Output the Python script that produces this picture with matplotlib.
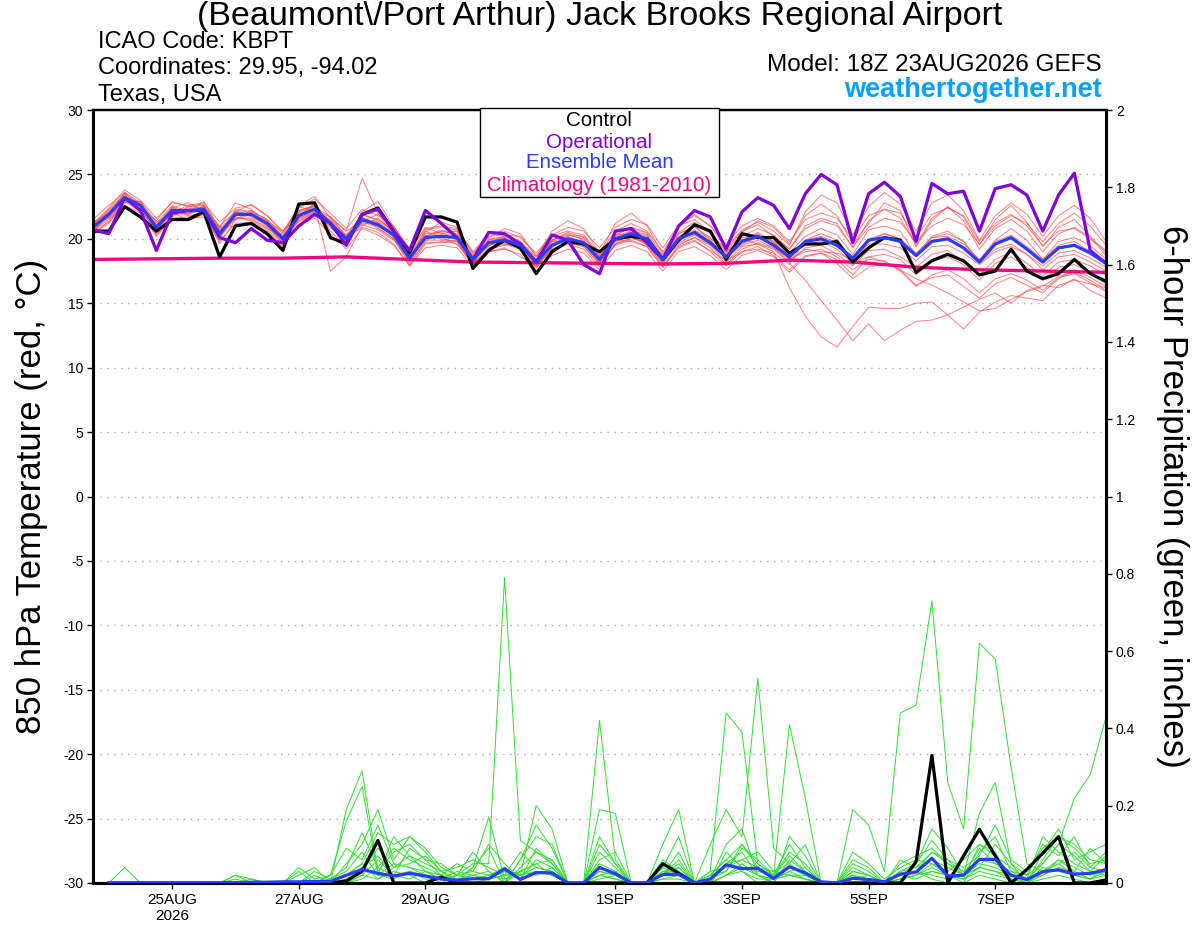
import numpy as np
import matplotlib
matplotlib.use("Agg")
import matplotlib.pyplot as plt
from matplotlib.patches import Rectangle

plt.rcParams['font.family'] = ['Liberation Sans', 'DejaVu Sans']
plt.rcParams['axes.unicode_minus'] = False

# 6-hourly steps from 18Z 23AUG2026 (step 0) to 18Z 08SEP2026 (step 64)
tick_steps = [5, 13, 21, 33, 41, 49, 57]
tick_labels = ["25AUG\n2026", "27AUG", "29AUG", "1SEP", "3SEP", "5SEP", "7SEP"]

# 850 hPa temperature (C), steps 0..64
control_t = [20.6, 20.6, 22.5, 21.7, 20.6, 21.5, 21.5, 22.1, 18.6, 21.0, 21.2, 20.4, 19.1, 22.7, 22.8, 20.1,
             19.6, 21.9, 22.4, 20.6, 18.9, 21.7, 21.7, 21.3, 17.7, 19.1, 19.9, 19.3, 17.3, 19.0, 19.8, 19.6,
             19.0, 20.0, 20.2, 20.0, 18.4, 19.9, 21.1, 20.6, 18.4, 20.4, 20.1, 20.1, 18.9, 19.6, 19.6, 19.8,
             18.2, 19.3, 20.1, 19.9, 17.4, 18.3, 18.8, 18.3, 17.2, 17.5, 19.2, 17.5, 16.9, 17.3, 18.4, 17.3, 16.7]
oper_t = [20.7, 20.4, 23.2, 22.2, 19.1, 22.0, 22.2, 22.2, 20.1, 19.7, 20.8, 19.9, 19.7, 21.0, 21.9, 21.2,
          19.5, 21.9, 22.3, 20.6, 19.1, 22.2, 21.2, 20.1, 18.4, 20.5, 20.4, 19.6, 18.2, 20.3, 19.9, 18.0,
          17.3, 20.6, 20.8, 19.7, 18.4, 21.0, 22.2, 21.7, 19.2, 22.1, 23.2, 22.6, 20.8, 23.5, 25.0, 24.2,
          19.7, 23.5, 24.4, 23.3, 19.8, 24.3, 23.5, 23.7, 20.6, 23.9, 24.2, 23.4, 20.6, 23.4, 25.1, 19.1, 18.1]
mean_t = [20.9, 21.9, 23.2, 22.6, 20.9, 22.2, 22.2, 22.3, 20.4, 21.9, 21.9, 21.2, 20.0, 21.8, 22.3, 21.2,
          20.0, 21.5, 21.1, 20.3, 18.5, 20.1, 20.2, 20.1, 18.4, 19.7, 19.9, 19.5, 18.2, 19.5, 20.0, 19.7,
          18.4, 20.0, 20.4, 20.0, 18.4, 20.0, 20.5, 19.7, 18.6, 19.8, 20.2, 19.5, 18.6, 19.8, 20.0, 19.5,
          18.5, 19.9, 20.1, 19.8, 18.7, 19.8, 20.0, 19.3, 18.2, 19.6, 20.1, 19.2, 18.2, 19.3, 19.5, 18.9, 18.1]
# climatology every 4 steps (18Z each day)
clim_steps = [0, 4, 8, 12, 16, 20, 24, 28, 32, 36, 40, 44, 48, 52, 56, 60, 64]
clim_t = [18.4, 18.45, 18.5, 18.5, 18.6, 18.4, 18.2, 18.15, 18.1, 18.05, 18.1, 18.35, 18.2, 17.8, 17.6, 17.5, 17.4]

members_t = [
    [21.2, 22.4, 23.8, 23.0, 21.6, 22.8, 22.6, 22.8, 21.3, 22.4, 22.6, 21.8, 20.6, 22.4, 23.1, 22.0, 20.8, 22.3, 21.8, 21.0, 19.2,
     20.8, 21.0, 20.8, 19.0, 20.4, 20.6, 20.1, 18.9, 20.3, 20.9, 20.6, 19.3, 20.9, 21.5, 21.1, 19.3, 21.1, 21.8, 21.0, 19.6,
     21.0, 21.6, 21.0, 19.8, 21.5, 22.0, 21.6, 20.0, 21.8, 22.3, 22.0, 20.1, 21.9, 22.4, 21.8, 19.8, 21.2, 21.9, 21.0, 19.5, 20.6, 20.8, 20.0, 19.1],
    [20.6, 21.3, 22.6, 22.0, 20.2, 21.5, 21.6, 21.7, 19.8, 21.2, 21.3, 20.5, 19.4, 21.1, 21.6, 20.4, 19.2, 20.8, 20.3, 19.5, 17.9,
     19.3, 19.5, 19.3, 17.8, 19.0, 19.2, 18.8, 17.5, 18.7, 19.2, 18.9, 17.6, 19.1, 19.5, 19.0, 17.5, 19.0, 19.4, 18.7, 17.6,
     18.7, 19.1, 18.6, 17.4, 18.6, 18.9, 18.4, 17.2, 18.6, 18.8, 18.4, 17.2, 18.3, 18.6, 18.0, 16.8, 18.1, 18.6, 17.8, 16.8, 17.8, 18.0, 17.4, 16.5],
    [21.0, 22.1, 23.5, 22.2, 21.0, 22.5, 21.9, 22.6, 20.9, 22.8, 22.3, 21.0, 20.3, 22.6, 23.3, 21.6, 20.6, 24.7, 22.0, 20.2, 18.3,
     20.5, 21.3, 20.9, 18.8, 20.1, 20.8, 20.4, 18.6, 20.6, 21.4, 20.8, 18.9, 21.2, 22.0, 21.0, 18.8, 21.0, 21.5, 20.5, 19.0,
     20.5, 21.4, 20.9, 19.6, 21.8, 22.7, 21.8, 19.6, 21.2, 22.8, 22.2, 19.4, 21.4, 22.5, 21.7, 19.5, 21.5, 22.6, 21.3, 19.4, 20.9, 21.5, 20.2, 18.9],
    [20.8, 21.7, 23.0, 22.7, 20.7, 21.9, 22.4, 22.0, 20.1, 21.6, 21.6, 20.9, 19.8, 21.5, 22.0, 20.9, 19.7, 21.2, 21.3, 20.4, 18.7,
     20.3, 20.0, 19.8, 18.1, 19.5, 19.7, 19.3, 18.0, 19.2, 19.7, 19.4, 18.1, 19.8, 20.2, 19.6, 18.3, 19.6, 20.1, 19.5, 18.2,
     19.4, 19.6, 19.0, 16.2, 14.0, 12.4, 11.6, 13.2, 14.7, 14.6, 14.6, 15.0, 15.1, 14.1, 13.0, 14.3, 15.1, 15.6, 15.4, 15.2, 16.4, 16.8, 16.5, 16.2],
    [21.3, 21.6, 22.9, 22.9, 21.3, 21.9, 22.0, 22.5, 20.7, 21.5, 22.2, 21.4, 20.2, 21.6, 22.1, 21.5, 20.3, 21.7, 20.8, 20.0, 18.0,
     19.8, 20.6, 20.4, 18.7, 19.4, 20.3, 19.8, 18.4, 19.9, 20.4, 19.9, 18.2, 19.6, 20.7, 20.3, 18.6, 20.4, 20.9, 20.1, 19.0,
     20.0, 19.6, 19.2, 18.1, 16.8, 15.2, 13.7, 12.1, 13.4, 12.1, 12.9, 13.6, 13.7, 14.1, 14.7, 15.3, 15.8, 15.0, 16.0, 16.4, 16.2, 16.9, 16.0, 15.4],
    [20.5, 22.0, 23.4, 22.3, 20.5, 22.4, 22.8, 22.2, 20.0, 22.1, 21.7, 21.1, 19.6, 22.0, 22.6, 21.0, 19.8, 21.9, 21.5, 20.7, 18.9,
     20.6, 20.1, 19.6, 18.0, 20.0, 20.1, 19.1, 17.9, 19.3, 20.3, 20.2, 18.6, 20.3, 20.9, 20.4, 18.0, 20.4, 21.0, 19.9, 18.4,
     19.9, 20.5, 19.8, 18.4, 19.0, 19.2, 18.6, 17.6, 18.4, 18.3, 17.5, 16.4, 17.0, 17.2, 16.3, 15.4, 16.5, 17.0, 16.4, 15.8, 16.9, 17.6, 17.0, 16.3],
    [21.5, 22.6, 23.6, 22.5, 21.4, 22.9, 22.5, 22.4, 21.0, 22.1, 22.7, 21.8, 20.5, 22.5, 22.2, 21.7, 20.6, 21.4, 21.9, 21.0, 19.0,
     20.9, 20.4, 20.6, 18.9, 20.2, 20.3, 20.2, 18.7, 20.2, 20.6, 20.3, 18.9, 20.6, 21.2, 20.6, 19.0, 20.9, 21.9, 21.0, 19.3,
     20.7, 21.3, 20.6, 19.5, 22.1, 23.4, 22.8, 20.3, 22.5, 23.6, 22.7, 20.6, 22.8, 23.4, 22.2, 19.9, 21.8, 22.8, 21.9, 20.2, 21.8, 22.6, 21.6, 19.8],
    [20.3, 21.4, 22.8, 22.9, 20.4, 21.6, 21.7, 22.1, 19.6, 21.5, 21.9, 21.4, 19.8, 21.4, 22.0, 21.4, 20.1, 20.9, 20.5, 19.6, 17.9,
     19.6, 19.8, 19.9, 17.9, 19.2, 19.5, 19.7, 18.0, 19.1, 19.6, 19.2, 17.8, 19.6, 20.1, 19.7, 17.9, 19.5, 20.1, 19.3, 18.0,
     19.2, 19.7, 19.3, 18.2, 19.3, 19.5, 18.8, 17.9, 19.1, 19.2, 18.6, 17.8, 18.8, 19.1, 18.2, 17.2, 18.4, 19.0, 18.1, 17.1, 18.2, 18.4, 17.9, 17.2],
    [20.9, 21.8, 23.1, 22.9, 20.8, 22.0, 22.6, 22.7, 20.6, 21.7, 21.5, 20.8, 20.1, 22.1, 22.6, 17.5, 18.6, 21.0, 21.6, 20.5, 18.2,
     20.2, 20.7, 20.2, 18.5, 19.8, 19.6, 19.4, 17.7, 19.8, 19.8, 19.6, 18.3, 20.4, 20.2, 19.5, 18.1, 19.8, 20.6, 19.8, 18.8,
     20.1, 20.3, 19.8, 18.9, 20.2, 20.8, 20.3, 18.8, 20.7, 21.0, 20.6, 18.7, 20.2, 20.6, 19.8, 18.3, 19.9, 20.8, 19.9, 18.4, 19.8, 20.1, 19.5, 18.4],
    [21.1, 22.2, 23.3, 22.4, 21.1, 22.4, 21.8, 22.0, 20.5, 22.2, 21.8, 21.0, 19.9, 21.9, 22.5, 21.4, 19.9, 21.6, 21.3, 20.2, 18.6,
     20.0, 20.3, 20.3, 18.6, 19.9, 20.0, 19.6, 18.4, 19.8, 20.1, 19.8, 18.5, 20.2, 20.6, 20.2, 18.5, 20.2, 20.7, 20.0, 18.9,
     20.2, 20.8, 20.3, 19.2, 21.0, 21.6, 21.2, 19.3, 21.4, 22.3, 21.6, 19.5, 21.6, 22.5, 21.4, 19.2, 20.8, 21.5, 20.6, 19.0, 20.4, 20.9, 20.1, 18.7],
    [20.7, 21.5, 22.9, 22.1, 20.3, 21.7, 22.5, 22.6, 20.2, 22.3, 22.1, 21.5, 20.2, 21.3, 21.9, 21.2, 20.3, 21.1, 20.7, 19.9, 18.4,
     19.9, 19.9, 19.6, 18.2, 19.6, 19.7, 19.2, 18.1, 19.6, 20.2, 19.7, 18.1, 19.6, 20.0, 19.8, 18.6, 19.7, 20.3, 19.5, 18.5,
     19.5, 19.9, 19.3, 18.4, 19.2, 19.0, 18.9, 18.4, 19.6, 19.6, 19.3, 18.3, 19.4, 19.5, 18.9, 18.0, 19.0, 19.4, 18.8, 17.9, 18.9, 19.1, 18.5, 17.8],
    [21.0, 21.9, 23.6, 22.8, 21.2, 22.6, 22.1, 22.9, 20.8, 21.9, 22.0, 21.3, 20.6, 21.7, 22.8, 21.1, 19.6, 21.5, 21.2, 20.1, 18.8,
     20.4, 20.5, 19.9, 18.3, 19.7, 20.1, 19.5, 18.3, 19.5, 20.0, 19.5, 18.3, 20.0, 20.5, 19.9, 18.2, 20.1, 20.4, 19.6, 18.6,
     19.6, 20.1, 19.6, 18.5, 19.6, 19.8, 19.2, 18.1, 18.6, 18.2, 17.6, 16.9, 16.4, 15.8, 15.1, 14.4, 14.6, 15.3, 15.9, 16.3, 17.1, 17.4, 16.8, 16.0],
    [20.4, 21.2, 23.0, 22.3, 20.6, 22.1, 21.4, 21.9, 20.9, 21.0, 21.1, 20.6, 19.5, 22.2, 22.6, 20.6, 19.4, 22.1, 22.9, 20.9, 18.4,
     20.7, 20.9, 20.7, 18.2, 19.0, 19.3, 18.6, 17.9, 19.9, 20.5, 20.1, 18.8, 19.9, 19.8, 19.4, 17.8, 19.3, 19.8, 19.1, 18.3,
     19.0, 19.2, 18.9, 18.0, 19.9, 20.4, 19.9, 18.0, 19.8, 20.4, 20.0, 18.6, 20.1, 20.4, 19.8, 18.1, 19.2, 19.6, 18.8, 17.6, 18.6, 18.8, 18.2, 17.5],
    [21.3, 22.0, 23.3, 22.6, 21.0, 22.3, 22.3, 22.1, 20.3, 22.0, 22.2, 21.5, 20.4, 22.2, 22.5, 21.7, 20.2, 21.9, 21.4, 20.6, 18.6,
     20.2, 20.6, 20.6, 18.6, 19.9, 20.2, 19.8, 18.6, 19.9, 20.3, 20.0, 18.7, 20.3, 20.9, 20.5, 18.7, 20.5, 21.3, 20.4, 19.2,
     20.6, 21.1, 20.2, 19.2, 20.8, 21.4, 21.0, 19.4, 20.9, 21.6, 21.3, 19.8, 21.0, 21.6, 21.1, 19.6, 21.0, 21.8, 21.2, 19.8, 21.2, 22.0, 21.0, 19.5],
    [20.6, 21.7, 23.1, 22.5, 20.7, 22.0, 21.9, 22.4, 20.2, 21.7, 21.4, 20.7, 19.7, 21.6, 22.1, 21.0, 19.8, 21.3, 20.9, 20.0, 18.2,
     19.7, 19.7, 19.8, 18.0, 19.3, 19.6, 19.2, 17.8, 19.2, 19.7, 19.4, 18.0, 19.5, 19.9, 19.4, 17.8, 19.4, 19.9, 19.0, 17.9,
     19.0, 19.4, 18.7, 17.6, 18.7, 18.9, 18.1, 16.9, 17.8, 18.1, 17.6, 16.3, 17.2, 17.6, 16.9, 15.8, 16.9, 17.3, 16.8, 16.0, 17.0, 17.3, 16.6, 15.9],
    [21.0, 22.3, 23.5, 22.7, 20.9, 22.2, 22.0, 22.5, 20.6, 22.0, 22.0, 21.1, 20.0, 21.8, 22.3, 21.3, 20.1, 21.4, 21.0, 20.5, 18.7,
     20.1, 20.3, 20.0, 18.5, 19.6, 20.0, 19.6, 18.3, 19.5, 20.0, 19.8, 18.6, 20.1, 20.5, 20.0, 18.4, 20.0, 20.6, 19.8, 18.7,
     19.9, 20.4, 19.7, 18.7, 19.9, 20.2, 19.7, 18.6, 20.0, 20.4, 20.0, 18.9, 20.1, 20.2, 19.6, 18.4, 19.8, 20.3, 19.4, 18.4, 19.5, 19.8, 19.0, 18.2],
]

# 6-hour precipitation (inches), steps 1..64
control_p = [0, 0, 0, 0, 0, 0, 0, 0, 0, 0, 0, 0, 0, 0, 0, 0.005,
             0.03, 0.11, 0, 0, 0, 0.015, 0, 0, 0, 0, 0, 0, 0, 0, 0, 0,
             0, 0, 0, 0.05, 0.025, 0, 0, 0, 0, 0, 0, 0, 0, 0, 0, 0,
             0, 0, 0, 0.055, 0.33, 0, 0.07, 0.139, 0.07, 0, 0.035, 0.077, 0.12, 0, 0, 0.008]
mean_p = [0, 0, 0, 0, 0, 0, 0, 0, 0, 0.002, 0.002, 0.003, 0.003, 0.004, 0.004, 0.02,
          0.035, 0.025, 0.018, 0.025, 0.018, 0.01, 0.007, 0.011, 0.011, 0.037, 0.009, 0.027, 0.026, 0, 0, 0.04,
          0.024, 0, 0, 0.022, 0.022, 0, 0.01, 0.047, 0.037, 0.038, 0.012, 0.042, 0.026, 0.003, 0, 0.012,
          0.009, 0.003, 0.023, 0.028, 0.064, 0.018, 0.02, 0.061, 0.061, 0.02, 0.009, 0.029, 0.034, 0.023, 0.025, 0.034]

members_p = [
    [0, 0, 0, 0, 0, 0, 0, 0, 0, 0, 0, 0, 0, 0, 0, 0.02,
     0.05, 0.01, 0.03, 0.02, 0, 0, 0.02, 0.05, 0.05, 0.79, 0.11, 0.08, 0.06, 0, 0, 0.02,
     0.01, 0, 0, 0, 0, 0, 0.02, 0.06, 0.03, 0, 0.01, 0.03, 0.01, 0, 0, 0,
     0, 0, 0.02, 0.03, 0.01, 0, 0, 0.02, 0.01, 0, 0, 0.01, 0.02, 0.01, 0, 0],
    [0, 0.04, 0, 0, 0, 0, 0, 0, 0.02, 0, 0, 0, 0.02, 0.04, 0, 0.19,
     0.29, 0.03, 0.08, 0.1, 0.06, 0.02, 0, 0, 0, 0, 0.04, 0.08, 0.05, 0, 0, 0.05,
     0.03, 0, 0, 0.04, 0.12, 0, 0, 0.05, 0.08, 0.02, 0, 0.06, 0.03, 0, 0, 0,
     0, 0, 0.01, 0.02, 0.05, 0.02, 0.01, 0.1, 0.08, 0.01, 0, 0.04, 0.03, 0.02, 0.01, 0.02],
    [0, 0, 0, 0, 0, 0, 0, 0, 0, 0.01, 0, 0, 0.03, 0, 0.02, 0.16,
     0.25, 0.02, 0.12, 0.07, 0.05, 0.03, 0.01, 0.04, 0.09, 0, 0.06, 0.12, 0.1, 0, 0, 0.12,
     0.05, 0, 0, 0.02, 0.05, 0, 0, 0.08, 0.04, 0.03, 0.02, 0.1, 0.04, 0, 0, 0.02,
     0.01, 0, 0.02, 0.05, 0.14, 0.09, 0.02, 0.18, 0.26, 0.05, 0, 0.02, 0.06, 0.03, 0.01, 0.04],
    [0, 0, 0, 0, 0, 0, 0, 0, 0, 0, 0, 0, 0, 0.02, 0, 0.05,
     0.1, 0.19, 0.06, 0.12, 0.08, 0.03, 0, 0.04, 0.17, 0.01, 0.02, 0.2, 0.14, 0, 0, 0.03,
     0.02, 0, 0, 0.05, 0.03, 0, 0.01, 0.03, 0.1, 0.05, 0.02, 0.04, 0.02, 0, 0, 0.05,
     0.03, 0, 0.01, 0.02, 0.04, 0.02, 0, 0.08, 0.12, 0.03, 0.01, 0.05, 0.1, 0.07, 0.03, 0.02],
    [0, 0, 0, 0, 0, 0, 0, 0, 0, 0, 0, 0, 0, 0, 0, 0,
     0.02, 0.06, 0.02, 0.01, 0.03, 0.01, 0, 0.02, 0.03, 0, 0.03, 0.05, 0.02, 0, 0, 0.42,
     0.06, 0, 0, 0.1, 0.19, 0, 0.03, 0.44, 0.39, 0.05, 0.02, 0.08, 0.05, 0, 0, 0.03,
     0.02, 0, 0.03, 0.04, 0.06, 0.04, 0.02, 0.05, 0.04, 0.02, 0, 0.03, 0.05, 0.08, 0.04, 0.03],
    [0, 0, 0, 0, 0, 0, 0, 0, 0, 0, 0, 0, 0, 0, 0.01, 0.03,
     0.08, 0.02, 0.05, 0.04, 0.02, 0.01, 0.02, 0.01, 0.02, 0.04, 0.01, 0.09, 0.05, 0, 0, 0.19,
     0.18, 0, 0, 0.03, 0.02, 0, 0.1, 0.19, 0.12, 0.53, 0.09, 0.05, 0.02, 0, 0, 0.04,
     0.02, 0, 0.05, 0.07, 0.09, 0.05, 0.02, 0.04, 0.03, 0.01, 0, 0.06, 0.12, 0.09, 0.05, 0.06],
    [0, 0, 0, 0, 0, 0, 0, 0, 0, 0, 0, 0, 0, 0, 0, 0.01,
     0.03, 0.09, 0.04, 0.07, 0.03, 0.02, 0.01, 0.02, 0.01, 0.02, 0.03, 0.05, 0.06, 0, 0, 0.08,
     0.04, 0, 0, 0.02, 0.06, 0, 0.02, 0.03, 0.09, 0.06, 0.02, 0.41, 0.22, 0, 0, 0.06,
     0.04, 0, 0.02, 0.03, 0.08, 0.05, 0.03, 0.06, 0.05, 0.02, 0, 0.08, 0.14, 0.06, 0.08, 0.1],
    [0, 0, 0, 0, 0, 0, 0, 0, 0, 0, 0, 0, 0, 0, 0, 0,
     0.01, 0.04, 0.02, 0.03, 0.02, 0, 0, 0.01, 0.02, 0.03, 0.01, 0.03, 0.02, 0, 0, 0.03,
     0.02, 0, 0, 0.01, 0.02, 0, 0, 0.02, 0.04, 0.02, 0.01, 0.02, 0.01, 0, 0, 0.19,
     0.15, 0.03, 0.44, 0.46, 0.73, 0.26, 0.14, 0.62, 0.58, 0.3, 0.05, 0.03, 0.06, 0.04, 0.02, 0.03],
    [0, 0, 0, 0, 0, 0, 0, 0, 0, 0, 0, 0, 0, 0, 0, 0,
     0.04, 0.02, 0.01, 0.03, 0.01, 0.01, 0, 0, 0.01, 0.02, 0.02, 0.04, 0.03, 0, 0, 0.02,
     0.01, 0, 0, 0.03, 0.04, 0, 0.01, 0.05, 0.06, 0.04, 0.03, 0.02, 0.01, 0, 0, 0.01,
     0.01, 0, 0.01, 0.02, 0.03, 0.02, 0.01, 0.04, 0.1, 0.05, 0.02, 0.05, 0.1, 0.22, 0.28, 0.43],
    [0, 0, 0, 0, 0, 0, 0, 0, 0, 0, 0, 0, 0, 0, 0, 0.02,
     0.05, 0.13, 0.1, 0.12, 0.09, 0.04, 0.02, 0.08, 0.03, 0, 0.06, 0.15, 0.09, 0, 0, 0.02,
     0.03, 0, 0, 0.06, 0.03, 0, 0.01, 0.1, 0.14, 0.02, 0, 0.12, 0.07, 0, 0, 0.02,
     0, 0, 0.03, 0.05, 0.11, 0.06, 0.04, 0.07, 0.15, 0.06, 0.03, 0.09, 0.12, 0.1, 0.06, 0.05],
    [0, 0, 0, 0, 0, 0, 0, 0, 0.01, 0, 0, 0, 0, 0.03, 0.01, 0.04,
     0.13, 0.04, 0.09, 0.06, 0.04, 0.02, 0.05, 0.03, 0.02, 0.01, 0.03, 0.02, 0.04, 0, 0, 0.06,
     0.08, 0, 0, 0.02, 0.08, 0, 0.03, 0.04, 0.06, 0.08, 0.03, 0.05, 0.1, 0, 0, 0.08,
     0.05, 0.01, 0.04, 0.06, 0.05, 0.03, 0.06, 0.1, 0.07, 0.04, 0.01, 0.12, 0.08, 0.05, 0.03, 0.07],
    [0, 0, 0, 0, 0, 0, 0, 0, 0, 0, 0, 0, 0, 0, 0, 0,
     0.02, 0.01, 0.04, 0.05, 0.07, 0.03, 0.04, 0.06, 0.04, 0.02, 0.08, 0.04, 0.03, 0, 0, 0.01,
     0.02, 0, 0, 0.01, 0.01, 0, 0, 0.02, 0.03, 0.01, 0.01, 0.03, 0.04, 0, 0, 0.01,
     0.02, 0, 0.01, 0.03, 0.02, 0.01, 0.02, 0.04, 0.03, 0.02, 0.01, 0.02, 0.04, 0.03, 0.09, 0.05],
    [0, 0, 0, 0, 0, 0, 0, 0, 0, 0, 0, 0, 0, 0, 0, 0.01,
     0.04, 0.07, 0.02, 0.09, 0.06, 0.05, 0.02, 0.03, 0.1, 0.05, 0.01, 0.06, 0.04, 0, 0, 0.1,
     0.05, 0, 0, 0.04, 0.02, 0, 0.02, 0.06, 0.1, 0.04, 0.02, 0.07, 0.03, 0, 0, 0.03,
     0.02, 0, 0.06, 0.04, 0.08, 0.06, 0.02, 0.09, 0.05, 0.03, 0.02, 0.1, 0.07, 0.12, 0.04, 0.08],
    [0, 0, 0, 0, 0, 0, 0, 0, 0.02, 0.01, 0, 0, 0.04, 0.01, 0.02, 0.09,
     0.06, 0.15, 0.05, 0.04, 0.03, 0.01, 0.03, 0.02, 0.01, 0.03, 0.02, 0.03, 0.02, 0, 0, 0.04,
     0.02, 0, 0, 0.02, 0.04, 0, 0, 0.02, 0.05, 0.02, 0.01, 0.02, 0.02, 0, 0, 0.02,
     0.01, 0, 0.02, 0.01, 0.03, 0.02, 0.01, 0.03, 0.02, 0.01, 0, 0.03, 0.05, 0.02, 0.01, 0.03],
]

steps_t = np.arange(len(control_t))
steps_p = np.arange(1, len(control_p) + 1)

red = "#ff4a4a"
green = "#33dd33"
purple = "#7f00dd"
blue = "#2a3cff"
pink = "#f0087f"

fig = plt.figure(figsize=(12, 9.27), dpi=100)
ax = fig.add_axes([0.0775, 0.0475, 0.8442, 0.8338])
ax2 = ax.twinx()

#temperature
for m in members_t:
    ax.plot(steps_t, m, color=red, lw=0.7, alpha=0.7, zorder=2)
ax.plot(clim_steps, clim_t, color=pink, lw=2.4, zorder=3)
ax.plot(steps_t, control_t, color="k", lw=2.3, zorder=4)
ax.plot(steps_t, oper_t, color=purple, lw=2.3, zorder=5)
ax.plot(steps_t, mean_t, color=blue, lw=2.3, zorder=6)

#precip
for m in members_p:
    ax2.plot(steps_p, m, color=green, lw=0.7, zorder=2)
ax2.plot(steps_p, control_p, color="k", lw=2.3, zorder=4)
ax2.plot(steps_p, mean_p, color=blue, lw=2.3, zorder=5)

ax.set_xlim(0, 64)
ax.set_ylim(-30, 30)
ax2.set_ylim(0, 2)
ax.set_yticks(np.arange(-30, 31, 5))
ax2.set_yticks(np.arange(0, 2.01, 0.2))
ax2.set_yticklabels(["0", "0.2", "0.4", "0.6", "0.8", "1", "1.2", "1.4", "1.6", "1.8", "2"])
ax.set_xticks(tick_steps)
ax.set_xticklabels(tick_labels)

for y in range(-25, 30, 5):
    ax.axhline(y, color="#aaaaaa", lw=1, linestyle=(0, (1, 4)), zorder=1)

for a in (ax, ax2):
    for s in a.spines.values():
        s.set_linewidth(2.2)
    a.spines["top"].set_linewidth(1.6)
ax.tick_params(axis="y", labelsize=10, length=4, width=1, pad=3)
ax2.tick_params(axis="y", labelsize=10, length=4, width=1, pad=3)
ax.tick_params(axis="x", labelsize=11, length=4, width=1, pad=3)

ax.set_ylabel("850 hPa Temperature (red, °C)", fontsize=25, labelpad=11)
ax2.set_ylabel("6-hour Precipitation (green, inches)", fontsize=25, rotation=270, labelpad=39)

fig.text(0.5, 0.982, "(Beaumont\\/Port Arthur) Jack Brooks Regional Airport", fontsize=24.5,
         ha="center", va="center")
fig.text(0.0817, 0.9545, "ICAO Code: KBPT", fontsize=17, ha="left", va="center")
fig.text(0.0817, 0.9262, "Coordinates: 29.95, -94.02", fontsize=17, ha="left", va="center")
fig.text(0.0817, 0.8975, "Texas, USA", fontsize=17, ha="left", va="center")
fig.text(0.9183, 0.930, "Model: 18Z 23AUG2026 GEFS", fontsize=17.5, ha="right", va="center")
fig.text(0.9183, 0.903, "weathertogether.net", fontsize=19.5, fontweight="bold", color="#0aa0ff",
         ha="right", va="center")

#legend box
fig.patches.append(Rectangle((0.4, 0.7875), 0.199, 0.096, transform=fig.transFigure,
                             facecolor="white", edgecolor="k", lw=1, zorder=10))
leg_items = ["Control", "Operational", "Ensemble Mean", "Climatology (1981-2010)"]
leg_colors = ["k", purple, blue, pink]
leg_y = [0.8695, 0.8468, 0.8242, 0.8004]
for txt, c, yy in zip(leg_items, leg_colors, leg_y):
    fig.text(0.4995, yy, txt, color=c, fontsize=14.8, ha="center", va="center", zorder=11)

fig.savefig("out.png", dpi=100)
